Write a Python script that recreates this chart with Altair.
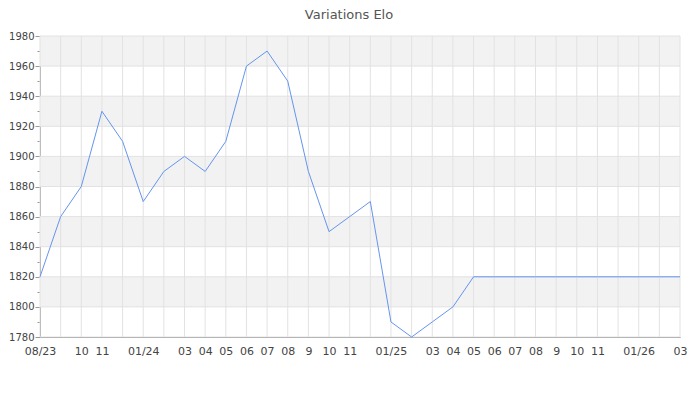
import altair as alt
import pandas as pd

month_labels = ["08/23", "", "10", "11", "", "01/24", "", "03", "04", "05", "06", "07",
                "08", "9", "10", "11", "", "01/25", "", "03", "04", "05", "06", "07",
                "08", "9", "10", "11", "", "01/26", "", "03"]
elo = [1820, 1860, 1880, 1930, 1910, 1870, 1890, 1900, 1890, 1910, 1960, 1970,
       1950, 1890, 1850, 1860, 1870, 1790, 1780, 1790, 1800, 1820, 1820, 1820,
       1820, 1820, 1820, 1820, 1820, 1820, 1820, 1820]
y_ticks = list(range(1780, 1981, 10))
y_grid = list(range(1780, 1981, 20))
band_lo = [1800, 1840, 1880, 1920, 1960]
band_hi = [1820, 1860, 1900, 1940, 1980]

idx = list(range(len(month_labels)))
df = pd.DataFrame({"i": idx, "elo": elo})
bands = pd.DataFrame({"lo": band_lo, "hi": band_hi})
vgrid = pd.DataFrame({"i": idx})
hgrid = pd.DataFrame({"v": y_grid})

font = "DejaVu Sans"
label_arr = "[" + ",".join("'%s'" % s for s in month_labels) + "]"

xscale = alt.Scale(domain=[0, len(idx) - 1], nice=False, zero=False)
yscale = alt.Scale(domain=[1780, 1980], nice=False, zero=False)

xaxis = alt.Axis(values=idx, labelExpr=label_arr + "[datum.value]", grid=False, ticks=False,
                 domainColor="#888888", labelColor="#444444", labelFont=font, labelFontSize=11,
                 labelPadding=8, labelFlush=False, labelOverlap=False, title=None)
yaxis = alt.Axis(values=y_ticks, labelExpr="datum.value % 20 == 0 ? datum.value : ''",
                 grid=False, domainColor="#999999", tickColor="#999999",
                 tickSize={"condition": {"test": "datum.value % 20 == 0", "value": 5}, "value": 3},
                 labelColor="#444444", labelFont=font, labelFontSize=10, labelPadding=1,
                 labelOverlap=False, title=None)

band_layer = alt.Chart(bands).mark_rect(color="#f2f2f2").encode(
    x=alt.value(0), x2=alt.value(640),
    y=alt.Y("lo:Q", scale=yscale, axis=yaxis), y2="hi:Q")
v_layer = alt.Chart(vgrid).mark_rule(color="#e2e2e2", strokeWidth=1).encode(
    x=alt.X("i:Q", scale=xscale, axis=xaxis))
h_layer = alt.Chart(hgrid).mark_rule(color="#e2e2e2", strokeWidth=1).encode(
    y=alt.Y("v:Q", scale=yscale, axis=yaxis))
line_layer = alt.Chart(df).mark_line(color="#6495ED", strokeWidth=1).encode(
    x=alt.X("i:Q", scale=xscale, axis=xaxis),
    y=alt.Y("elo:Q", scale=yscale, axis=yaxis))

chart = alt.layer(band_layer, v_layer, h_layer, line_layer).properties(
    width=640, height=301,
    autosize=alt.AutoSizeParams(type="none"),
    padding={"left": 32, "top": 28, "right": 12, "bottom": 55},
    title=alt.Title("Variations Elo", font=font, fontSize=13, fontWeight="normal",
                    color="#555555", anchor="middle", dx=-11, offset=9),
).configure_view(stroke=None)

chart.save("out.html", embed_options={"renderer": "svg", "actions": False})
